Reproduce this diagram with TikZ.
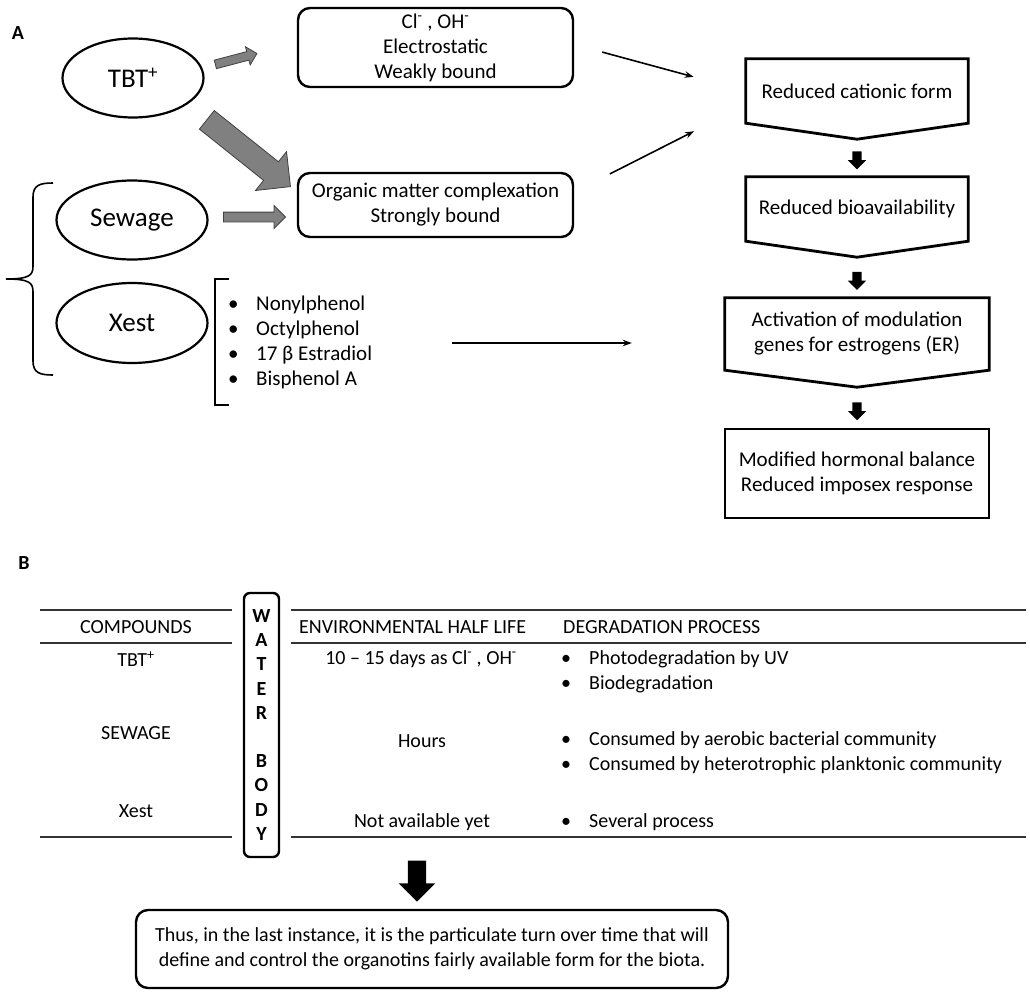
\documentclass[tikz,border=0pt]{standalone}
\usepackage{fontspec}
\setmainfont{Carlito}
\usepackage{tikz}
\usetikzlibrary{positioning,arrows.meta,shapes.geometric,shapes.arrows,calc}
\newcommand{\bul}[1]{\makebox[28pt][l]{\textbullet}#1}
\newcommand{\charge}[1]{\textsuperscript{#1}}

\begin{document}
\begin{tikzpicture}[x=1pt, y=-1pt,
    every node/.style={font=\fontsize{21}{25}\selectfont},
    blob/.style={ellipse, draw, line width=2.2pt, inner sep=0pt,
                 font=\fontsize{27}{32}\selectfont},
    rbox/.style={rectangle, draw, rounded corners=12pt, line width=2.4pt,
                 align=center, inner sep=0pt},
    flowbox/.style={rectangle, minimum width=222pt, minimum height=64pt,
                    align=center, inner sep=0pt},
    flowline/.style={line width=2.8pt, line join=miter},
    garrow/.style={single arrow, draw=black!75, fill=gray, line width=0.8pt,
                   single arrow head extend=#1, single arrow tip angle=90,
                   inner xsep=0pt},
    karrow/.style={single arrow, draw=none, fill=black, rotate=-90,
                   single arrow head extend=#1, single arrow tip angle=90,
                   inner xsep=0pt},
    arrow/.style={-{Stealth[length=9pt, width=6.5pt]}, line width=1.6pt},
    thinline/.style={line width=1.6pt},
    tabtext/.style={font=\fontsize{20}{25}\selectfont, align=left, inner sep=0pt},
    rule/.style={line width=1.3pt, black!80},
    panel/.style={font=\bfseries\fontsize{20}{22}\selectfont, inner sep=0pt},
]
\useasboundingbox (0,0) rectangle (1030,996);

% Panel A — sources
\node[panel] (pa) at (18,33) {A};
\node[blob, minimum width=141pt, minimum height=79pt] (tbt) at (133,78) {TBT\charge{+}};
\node[blob, minimum width=151pt, minimum height=79pt] (sew) at (132,220) {Sewage};
\node[blob, minimum width=151pt, minimum height=80pt] (xest) at (132,323) {Xest};

% Binding forms
\node[rbox, minimum width=275pt, minimum height=79pt] (cl) at (435.5,47.5)
    {Cl\charge{-} , OH\charge{-}\\Electrostatic\\Weakly bound};
\node[rbox, minimum width=275pt, minimum height=64pt] (org) at (435.5,205)
    {Organic matter complexation\\Strongly bound};

% Gray block arrows
\node[garrow=5pt, inner ysep=4pt, minimum height=43pt, rotate=14.7] (g1) at (234,59.5) {};
\node[garrow=13pt, inner ysep=11.5pt, minimum height=107pt, rotate=-38.6] (g2) at (244,149.5) {};
\node[garrow=6.5pt, inner ysep=4.5pt, minimum height=62pt] (g3) at (252,217) {};

% Brace and xenoestrogen list
\draw[thinline] (53,183) .. controls (40,183) and (33,185) .. (33,197) -- (33,266)
    .. controls (33,275) and (30,279) .. (6,279)
    .. controls (30,279) and (33,283) .. (33,292) -- (33,361)
    .. controls (33,373) and (40,375) .. (53,375);
\draw[thinline] (229,279) -- (215,279) -- (215,405) -- (229,405);
\node[anchor=west, align=left, inner sep=0pt] (xlist) at (228,342)
    {\bul{Nonylphenol}\\\bul{Octylphenol}\\\bul{17 β Estradiol}\\\bul{Bisphenol A}};

% Effects — top to bottom
\node[flowbox] (red1) at (857,91) {Reduced cationic form};
\node[flowbox] (red2) at (857,209) {Reduced bioavailability};
\node[flowbox, minimum width=264pt, minimum height=72pt] (red3) at (857,334)
    {Activation of modulation\\genes for estrogens (ER)};
\node[flowbox, draw, flowline, minimum width=264pt, minimum height=89pt] (red4) at (857,473.5)
    {Modified hormonal balance\\Reduced imposex response};
\draw[flowline] (red1.north west) -- (red1.north east) -- (red1.south east)
    -- ($(red1.south)+(0,16)$) -- (red1.south west) -- cycle;
\draw[flowline] (red2.north west) -- (red2.north east) -- (red2.south east)
    -- ($(red2.south)+(0,16)$) -- (red2.south west) -- cycle;
\draw[flowline] (red3.north west) -- (red3.north east) -- (red3.south east)
    -- ($(red3.south)+(0,17)$) -- (red3.south west) -- cycle;
\node[karrow=4.5pt, inner ysep=4.5pt, minimum height=18pt] (k1) at ($(red1.south)!0.5!(red2.north)+(0,8)$) {};
\node[karrow=4.5pt, inner ysep=4.5pt, minimum height=18pt] (k2) at ($(red2.south)!0.5!(red3.north)+(0,9)$) {};
\node[karrow=4.5pt, inner ysep=4.5pt, minimum height=18pt] (k3) at ($(red3.south)!0.5!(red4.north)+(0,10)$) {};

% Thin arrows
\draw[arrow, shorten <=29pt, shorten >=54pt] ([yshift=3pt]cl.east) -- (red1.west);
\draw[arrow, shorten <=40pt, shorten >=58pt] ([yshift=13pt]org.east) -- ([yshift=-14pt]red1.west);
\coordinate (xa) at (452,343);
\draw[arrow, shorten >=93pt] (xa) -- (xa -| red3.west);

% Panel B — table
\node[panel] (pb) at (24,563) {B};
\draw[rule] (40,610) -- (232,610) (40,643) -- (232,643) (40,837) -- (232,837);
\draw[rule] (291,610) -- (1026,610) (291,643) -- (1026,643) (291,837) -- (1026,837);
\node[rbox, rounded corners=6pt, minimum width=35pt, minimum height=264pt,
      font=\bfseries\fontsize{20}{24.2}\selectfont] (water) at (261.5,725)
    {W\\A\\T\\E\\R\\[24.2pt]B\\O\\D\\Y};

\node[tabtext] (hcomp) at (136,627) {COMPOUNDS};
\node[tabtext, anchor=west] (hlife) at (299,627) {ENVIRONMENTAL HALF LIFE};
\node[tabtext, anchor=west] (hdeg) at (563,627) {DEGRADATION PROCESS};

\node[tabtext] (ctbt) at (136,659) {TBT\charge{+}};
\node[tabtext] (csew) at (136,733) {SEWAGE};
\node[tabtext] (cxest) at (136,811) {Xest};

\node[tabtext] (ltbt) at (421,659) {10 – 15 days as Cl\charge{-} , OH\charge{-}};
\node[tabtext] (lsew) at (422,741) {Hours};
\node[tabtext] (lxest) at (422,822) {Not available yet};

\node[tabtext, anchor=west] (dtbt) at (561,671.5) {\bul{Photodegradation by UV}\\\bul{Biodegradation}};
\node[tabtext, anchor=west] (dsew) at (561,752.5)
    {\bul{Consumed by aerobic bacterial community}\\\bul{Consumed by heterotrophic planktonic community}};
\node[tabtext, anchor=west] (dxest) at (561,822) {\bul{Several process}};

% Conclusion
\node[karrow=9pt, inner ysep=9pt, minimum height=41pt] (kbig) at (417,876.5) {};
\node[rbox, minimum width=592pt, minimum height=78pt, font=\fontsize{20}{25}\selectfont] (final) at (432,949)
    {Thus, in the last instance, it is the particulate turn over time that will\\
     define and control the organotins fairly available form for the biota.};

\end{tikzpicture}
\end{document}
